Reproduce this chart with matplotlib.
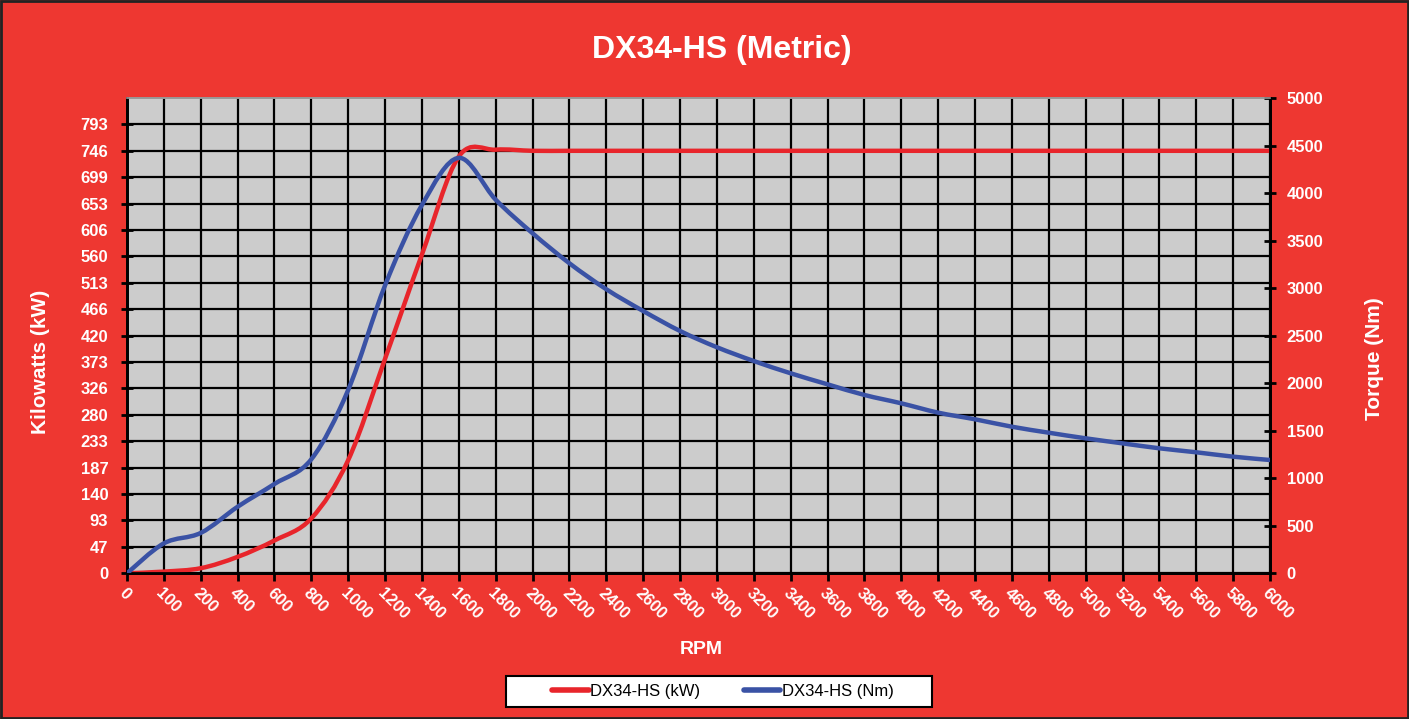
import matplotlib
matplotlib.use("Agg")
import matplotlib.pyplot as plt
from matplotlib.path import Path
from matplotlib.patches import PathPatch, Rectangle
from matplotlib.lines import Line2D
import numpy as np

# ---------------- data ----------------
rpm_labels = ["0", "100", "200", "400", "600", "800", "1000", "1200", "1400", "1600",
              "1800", "2000", "2200", "2400", "2600", "2800", "3000", "3200", "3400",
              "3600", "3800", "4000", "4200", "4400", "4600", "4800", "5000", "5200",
              "5400", "5600", "5800", "6000"]
power_kw = [0, 3, 9, 29, 58, 97, 200, 379, 563, 736, 748, 746, 746, 746, 746, 746,
            746, 746, 746, 746, 746, 746, 746, 746, 746, 746, 746, 746, 746, 746, 746, 746]
torque_nm = [0, 315, 425, 700, 940, 1200, 1930, 3030, 3875, 4370, 3930, 3577, 3261,
             2988, 2759, 2549, 2378, 2233, 2104, 1988, 1876, 1788, 1690, 1620, 1542,
             1479, 1420, 1367, 1315, 1273, 1227, 1192]
kw_step = 746 / 16
kw_ticks = [k * kw_step for k in range(18)]
kw_max = 18 * kw_step
nm_ticks = list(range(0, 5001, 500))

title = "DX34-HS (Metric)"
series_names = ["DX34-HS (kW)", "DX34-HS (Nm)"]

# ---------------- style ----------------
BG = "#EE3731"
PLOT_BG = "#CCCCCC"
RED = "#E8252B"
BLUE = "#3A52A5"
FONT = "Liberation Sans"

W, H = 1409, 719
fig = plt.figure(figsize=(W / 100, H / 100), dpi=100, facecolor=BG)
plt.rcParams["font.family"] = [FONT, "DejaVu Sans"]

L, R, T, B = 127, 1270, 98, 573.3
ax = fig.add_axes([L / W, 1 - B / H, (R - L) / W, (B - T) / H])
ax.set_facecolor(PLOT_BG)
ax2 = ax.twinx()
ax2.patch.set_visible(False)

x = np.arange(len(rpm_labels))


def smooth_path(xs, ys, t=1/6.0):
    pts = np.column_stack([xs, ys]).astype(float)
    n = len(pts)
    verts = [pts[0]]
    codes = [Path.MOVETO]
    for i in range(n - 1):
        p0 = pts[i - 1] if i > 0 else pts[i]
        p1 = pts[i]
        p2 = pts[i + 1]
        p3 = pts[i + 2] if i + 2 < n else pts[i + 1]
        c1 = p1 + (p2 - p0) * t
        c2 = p2 - (p3 - p1) * t
        verts += [c1, c2, p2]
        codes += [Path.CURVE4] * 3
    return Path(verts, codes)


ax.set_xlim(0, len(rpm_labels) - 1)
ax.set_ylim(0, kw_max)
ax2.set_ylim(0, 5000)

# grid
ax.set_xticks(x)
ax.set_xticklabels(rpm_labels)
ax.set_yticks(kw_ticks)
ax.set_yticklabels([str(int(np.floor(v + 0.5))) for v in kw_ticks])
ax.grid(True, color="black", linewidth=1.6)
ax.set_axisbelow(True)

red_patch = PathPatch(smooth_path(x, power_kw), facecolor="none", edgecolor=RED,
                      linewidth=3.2, capstyle="round", joinstyle="round",
                      transform=ax.transData, zorder=3)
ax.add_patch(red_patch)
blue_patch = PathPatch(smooth_path(x, torque_nm), facecolor="none", edgecolor=BLUE,
                       linewidth=3.2, capstyle="round", joinstyle="round",
                       transform=ax2.transData, zorder=3)
ax2.add_patch(blue_patch)

ax2.set_yticks(nm_ticks)
ax2.set_yticklabels([str(v) for v in nm_ticks])

# spines
for a in (ax, ax2):
    a.spines["top"].set_color("#999999")
    a.spines["top"].set_linewidth(1.2)
    for s in ("left", "right", "bottom"):
        a.spines[s].set_color("black")
        a.spines[s].set_linewidth(2)

ax.tick_params(axis="y", direction="inout", length=9, width=2, color="black",
               labelcolor="white", labelsize=12, pad=9)
ax2.tick_params(axis="y", direction="inout", length=9, width=2, color="black",
                labelcolor="white", labelsize=12, pad=7.5)
ax.tick_params(axis="x", direction="out", length=6, width=2, color="black",
               labelcolor="white", labelsize=12, pad=3)
for lab in ax.get_yticklabels() + ax2.get_yticklabels():
    lab.set_fontweight("bold")
for lab in ax.get_xticklabels():
    lab.set_fontweight("bold")
    lab.set_rotation(-45)
    lab.set_ha("left")
    lab.set_va("top")
    lab.set_rotation_mode("anchor")

# texts
fig.text(722 / W, 1 - 50 / H, title, color="white", fontsize=23, fontweight="bold",
         ha="center", va="center")
fig.text(40 / W, 1 - 362 / H, "Kilowatts (kW)", color="white", fontsize=15,
         fontweight="bold", rotation=90, ha="center", va="center")
fig.text(1374 / W, 1 - 359 / H, "Torque (Nm)", color="white", fontsize=15,
         fontweight="bold", rotation=90, ha="center", va="center")
fig.text(701 / W, 1 - 650 / H, "RPM", color="white", fontsize=14,
         fontweight="bold", ha="center", va="center")

# legend box
fig.patches.append(Rectangle((506 / W, 1 - 707 / H), 426 / W, 31 / H,
                             transform=fig.transFigure, facecolor="white",
                             edgecolor="black", linewidth=1.5, zorder=1))
handles = [Line2D([], [], color=RED, linewidth=4, solid_capstyle="round"),
           Line2D([], [], color=BLUE, linewidth=4, solid_capstyle="round")]
leg = fig.legend(handles, series_names, loc="center",
                 bbox_to_anchor=(723 / W, 1 - 691.5 / H), ncol=2, frameon=False,
                 handlelength=2.2, handletextpad=0.1, columnspacing=2.6,
                 prop={"family": FONT, "size": 12})
leg.set_zorder(5)

# figure border
fig.patches.append(Rectangle((0.0007, 0.001), 0.9986, 0.997, transform=fig.transFigure,
                             facecolor="none", edgecolor="#222222", linewidth=2, zorder=10))

fig.savefig("out.png", dpi=100, facecolor=BG)
